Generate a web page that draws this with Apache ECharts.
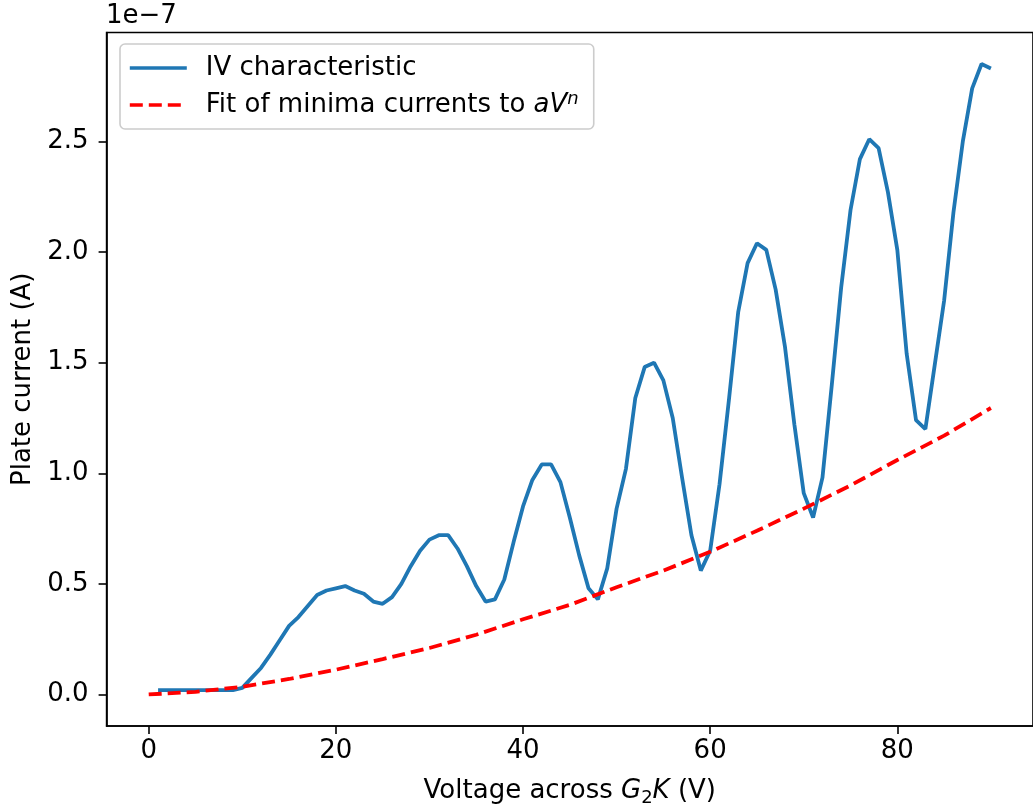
<!DOCTYPE html>
<html><head><meta charset="utf-8">
<script src="https://cdn.jsdelivr.net/npm/echarts@6/dist/echarts.min.js"></script>
<style>html,body{margin:0;padding:0;background:#fff}#c{width:1033px;height:812px}</style>
</head><body><div id="c"></div>
<script>
// Voltage across G2K (V)
const voltage = [1,2,3,4,5,6,7,8,9,10,11,12,13,14,15,16,17,18,19,20,21,22,23,24,25,26,27,28,29,30,
  31,32,33,34,35,36,37,38,39,40,41,42,43,44,45,46,47,48,49,50,51,52,53,54,55,56,57,58,59,60,
  61,62,63,64,65,66,67,68,69,70,71,72,73,74,75,76,77,78,79,80,81,82,83,84,85,86,87,88,89,90];
// Plate current, in units of 1e-7 A
const plateCurrent = [0.02,0.02,0.02,0.02,0.02,0.02,0.02,0.02,0.02,0.03,
  0.075,0.12,0.18,0.245,0.31,0.35,0.40,0.45,0.47,0.48,
  0.49,0.47,0.455,0.42,0.41,0.44,0.50,0.58,0.65,0.70,
  0.72,0.72,0.66,0.58,0.49,0.42,0.43,0.52,0.69,0.85,
  0.97,1.04,1.04,0.96,0.80,0.63,0.48,0.43,0.57,0.84,
  1.02,1.34,1.48,1.50,1.42,1.25,0.98,0.72,0.56,0.65,
  0.95,1.33,1.73,1.95,2.04,2.01,1.83,1.57,1.22,0.91,
  0.80,0.98,1.40,1.84,2.19,2.42,2.51,2.47,2.27,2.01,
  1.54,1.24,1.20,1.49,1.78,2.18,2.50,2.74,2.85,2.83];
// Fit of minima currents to aV^n
const fitVoltage = [0,5,10,15,20,25,30,35,40,45,50,55,60,65,70,75,80,85,90];
const fitCurrent = [0.0,0.012,0.035,0.07,0.112,0.16,0.21,0.27,0.34,0.405,0.485,0.56,0.645,0.74,0.84,0.945,1.06,1.17,1.295];
const xTicks = [0,20,40,60,80];
const yTicks = [0,0.5,1.0,1.5,2.0,2.5];
const ivName = 'IV characteristic';
const fitName = 'Fit of minima currents to aV^n';

const F = 'DejaVu Sans';
const FS = 26;
const chart = echarts.init(document.getElementById('c'), null, {renderer: 'canvas'});
const axisCommon = {
  axisLine: {show: true, onZero: false, lineStyle: {color: '#000', width: 1.6}},
  splitLine: {show: false},
  axisTick: {show: true, inside: false, length: 8, lineStyle: {color: '#000', width: 1.6}},
};
chart.setOption({
  animation: false,
  backgroundColor: '#fff',
  grid: {left: 106.6, top: 32.5, width: 933.4, height: 696, show: true, borderColor: '#000', borderWidth: 1.6},
  xAxis: Object.assign({}, axisCommon, {
    type: 'value', min: -4.5, max: 94.5,
    axisTick: Object.assign({}, axisCommon.axisTick, {customValues: xTicks}),
    axisLabel: {customValues: xTicks, formatter: v => String(v), fontFamily: F, fontSize: FS, color: '#000', margin: 12},
    name: 'Voltage across {i|G}{sub|2}{i|K} (V)', nameLocation: 'middle', nameGap: 49,
    nameTextStyle: {fontFamily: F, fontSize: FS, color: '#000', lineHeight: 32,
      rich: {
        i: {fontFamily: F, fontSize: FS, fontStyle: 'italic', color: '#000', lineHeight: 32},
        sub: {fontFamily: F, fontSize: 18, color: '#000', verticalAlign: 'bottom', lineHeight: 18}
      }}
  }),
  yAxis: Object.assign({}, axisCommon, {
    type: 'value', min: -0.1425, max: 2.9925,
    axisTick: Object.assign({}, axisCommon.axisTick, {customValues: yTicks}),
    axisLabel: {customValues: yTicks, formatter: v => v.toFixed(1), fontFamily: F, fontSize: FS, color: '#000', margin: 18},
    name: 'Plate current (A)', nameLocation: 'middle', nameGap: 70,
    nameTextStyle: {fontFamily: F, fontSize: FS, color: '#000'}
  }),
  legend: {
    orient: 'vertical', left: 120, top: 44, padding: [9, 15, 9, 8],
    itemWidth: 57, itemHeight: 14, itemGap: 7,
    backgroundColor: 'rgba(255,255,255,0.8)', borderColor: '#cccccc', borderWidth: 1.6, borderRadius: 5,
    itemStyle: {opacity: 0},
    lineStyle: {width: 3.6},
    data: [{name: ivName}, {name: fitName}],
    formatter: function (name) {
      return name === fitName ? 'Fit of minima currents to {i|aV}{sup|n}' : name;
    },
    textStyle: {fontFamily: F, fontSize: FS, color: '#000', lineHeight: 30, padding: [0, 0, 0, 14],
      rich: {
        i: {fontFamily: F, fontSize: FS, fontStyle: 'italic', color: '#000', lineHeight: 30},
        sup: {fontFamily: F, fontSize: 18, fontStyle: 'italic', color: '#000', verticalAlign: 'top', lineHeight: 18}
      }}
  },
  graphic: [{type: 'text', left: 106, top: 3, style: {text: '1e−7', font: FS + 'px "DejaVu Sans"', fill: '#000'}}],
  series: [
    {type: 'line', name: ivName, data: voltage.map((v, i) => [v, plateCurrent[i]]),
      symbol: 'none', showSymbol: false, lineStyle: {color: '#1f77b4', width: 3.8}, itemStyle: {color: '#1f77b4'}, z: 2},
    {type: 'line', name: fitName, data: fitVoltage.map((v, i) => [v, fitCurrent[i]]),
      symbol: 'none', showSymbol: false,
      lineStyle: {color: '#ff0000', width: 3.8, type: [13, 6]}, itemStyle: {color: '#ff0000'}, z: 3}
  ]
});
</script></body></html>
